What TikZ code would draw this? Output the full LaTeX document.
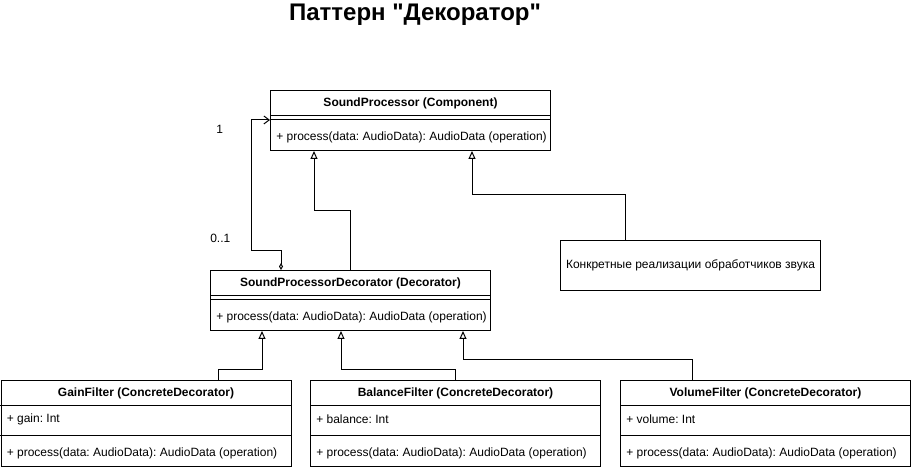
\documentclass[tikz,border=0pt]{standalone}
\usepackage{fontspec}
\setmainfont{Liberation Sans}[Ligatures=TeXOff]
\usetikzlibrary{arrows.meta, positioning, calc}
\frenchspacing

\begin{document}
\begin{tikzpicture}[
    x=0.75pt, y=-0.75pt,
    font=\fontsize{9}{11}\selectfont,
    classbox/.style={
        draw, line width=0.75pt, inner sep=0pt, anchor=north west,
        minimum width=210pt, minimum height=45pt
    },
    filterbox/.style={
        classbox, minimum width=217.5pt, minimum height=64.5pt
    },
    notebox/.style={
        draw, line width=0.75pt, inner sep=0pt, anchor=north west,
        minimum width=195pt, minimum height=37.5pt
    },
    classname/.style={font=\fontsize{9}{11}\selectfont\bfseries, inner sep=0pt},
    member/.style={anchor=west, inner sep=0pt},
    multlabel/.style={anchor=west, inner sep=0pt},
    separator/.style={line width=0.75pt},
    inherit/.style={-{Triangle[open, width=5.25pt, length=6pt]}, line width=0.75pt},
    assoc/.style={{Diamond[open, width=3pt, length=5.25pt]}-{Straight Barb[length=4pt, width=6pt]}, line width=0.75pt},
]
\useasboundingbox (0,0) rectangle (911,470);

% Title
\node[font=\fontsize{18}{21}\selectfont\bfseries, anchor=base] (title) at (415,21) {Паттерн "Декоратор"};

% Component
\node[classbox] (spComponent) at (270,90) {};
\node[classname] at ($(spComponent.north)+(0,13)$) {SoundProcessor (Component)};
\draw[separator] ($(spComponent.north west)+(0,26)$) -- ($(spComponent.north east)+(0,26)$);
\draw[separator] ($(spComponent.north west)+(0,30)$) -- ($(spComponent.north east)+(0,30)$);
\node[member] at ($(spComponent.north west)+(6,47)$) {+ process(data: AudioData): AudioData (operation)};

% Decorator
\node[classbox] (spDecorator) at (210,270) {};
\node[classname] at ($(spDecorator.north)+(0,13)$) {SoundProcessorDecorator (Decorator)};
\draw[separator] ($(spDecorator.north west)+(0,26)$) -- ($(spDecorator.north east)+(0,26)$);
\draw[separator] ($(spDecorator.north west)+(0,30)$) -- ($(spDecorator.north east)+(0,30)$);
\node[member] at ($(spDecorator.north west)+(6,47)$) {+ process(data: AudioData): AudioData (operation)};

% Note on concrete components
\node[notebox] (implNote) at (560,240) {Конкретные реализации обработчиков звука};

% Concrete decorators
\node[filterbox] (gainFilter) at (0.5,380) {};
\node[classname] at ($(gainFilter.north)+(0,13)$) {GainFilter (ConcreteDecorator)};
\draw[separator] ($(gainFilter.north west)+(0,26)$) -- ($(gainFilter.north east)+(0,26)$);
\node[member] at ($(gainFilter.north west)+(6,39)$) {+ gain: Int};
\draw[separator] ($(gainFilter.north west)+(0,56)$) -- ($(gainFilter.north east)+(0,56)$);
\node[member] at ($(gainFilter.north west)+(6,73)$) {+ process(data: AudioData): AudioData (operation)};

\node[filterbox] (balanceFilter) at (310,380) {};
\node[classname] at ($(balanceFilter.north)+(0,13)$) {BalanceFilter (ConcreteDecorator)};
\draw[separator] ($(balanceFilter.north west)+(0,26)$) -- ($(balanceFilter.north east)+(0,26)$);
\node[member] at ($(balanceFilter.north west)+(6,39)$) {+ balance: Int};
\draw[separator] ($(balanceFilter.north west)+(0,56)$) -- ($(balanceFilter.north east)+(0,56)$);
\node[member] at ($(balanceFilter.north west)+(6,73)$) {+ process(data: AudioData): AudioData (operation)};

\node[filterbox] (volumeFilter) at (620,380) {};
\node[classname] at ($(volumeFilter.north)+(0,13)$) {VolumeFilter (ConcreteDecorator)};
\draw[separator] ($(volumeFilter.north west)+(0,26)$) -- ($(volumeFilter.north east)+(0,26)$);
\node[member] at ($(volumeFilter.north west)+(6,39)$) {+ volume: Int};
\draw[separator] ($(volumeFilter.north west)+(0,56)$) -- ($(volumeFilter.north east)+(0,56)$);
\node[member] at ($(volumeFilter.north west)+(6,73)$) {+ process(data: AudioData): AudioData (operation)};

% Inheritance
\draw[inherit] ($(spDecorator.north west)+(140,0)$) -- ++(0,-59) -| ($(spComponent.south west)+(44,0)$);
\draw[inherit] ($(implNote.north west)+(65,0)$) -- ++(0,-45) -| ($(spComponent.south west)+(202,0)$);
\draw[inherit] ($(gainFilter.north west)+(217.5,0)$) -- ++(0,-10) -| ($(spDecorator.south west)+(52,0)$);
\draw[inherit] ($(balanceFilter.north west)+(145,0)$) -- ++(0,-10) -| ($(spDecorator.south west)+(131,0)$);
\draw[inherit] ($(volumeFilter.north west)+(72,0)$) -- ++(0,-20) -| ($(spDecorator.south west)+(253,0)$);

% Aggregation
\draw[assoc] ($(spDecorator.north west)+(71,0)$) -- ++(0,-19) -- ++(-30,0) |- ($(spComponent.north west)+(0,30)$);
\node[multlabel] (multOne) at (216,129) {1};
\node[multlabel] (multZeroOne) at (210,238) {0..1};

\end{tikzpicture}
\end{document}
